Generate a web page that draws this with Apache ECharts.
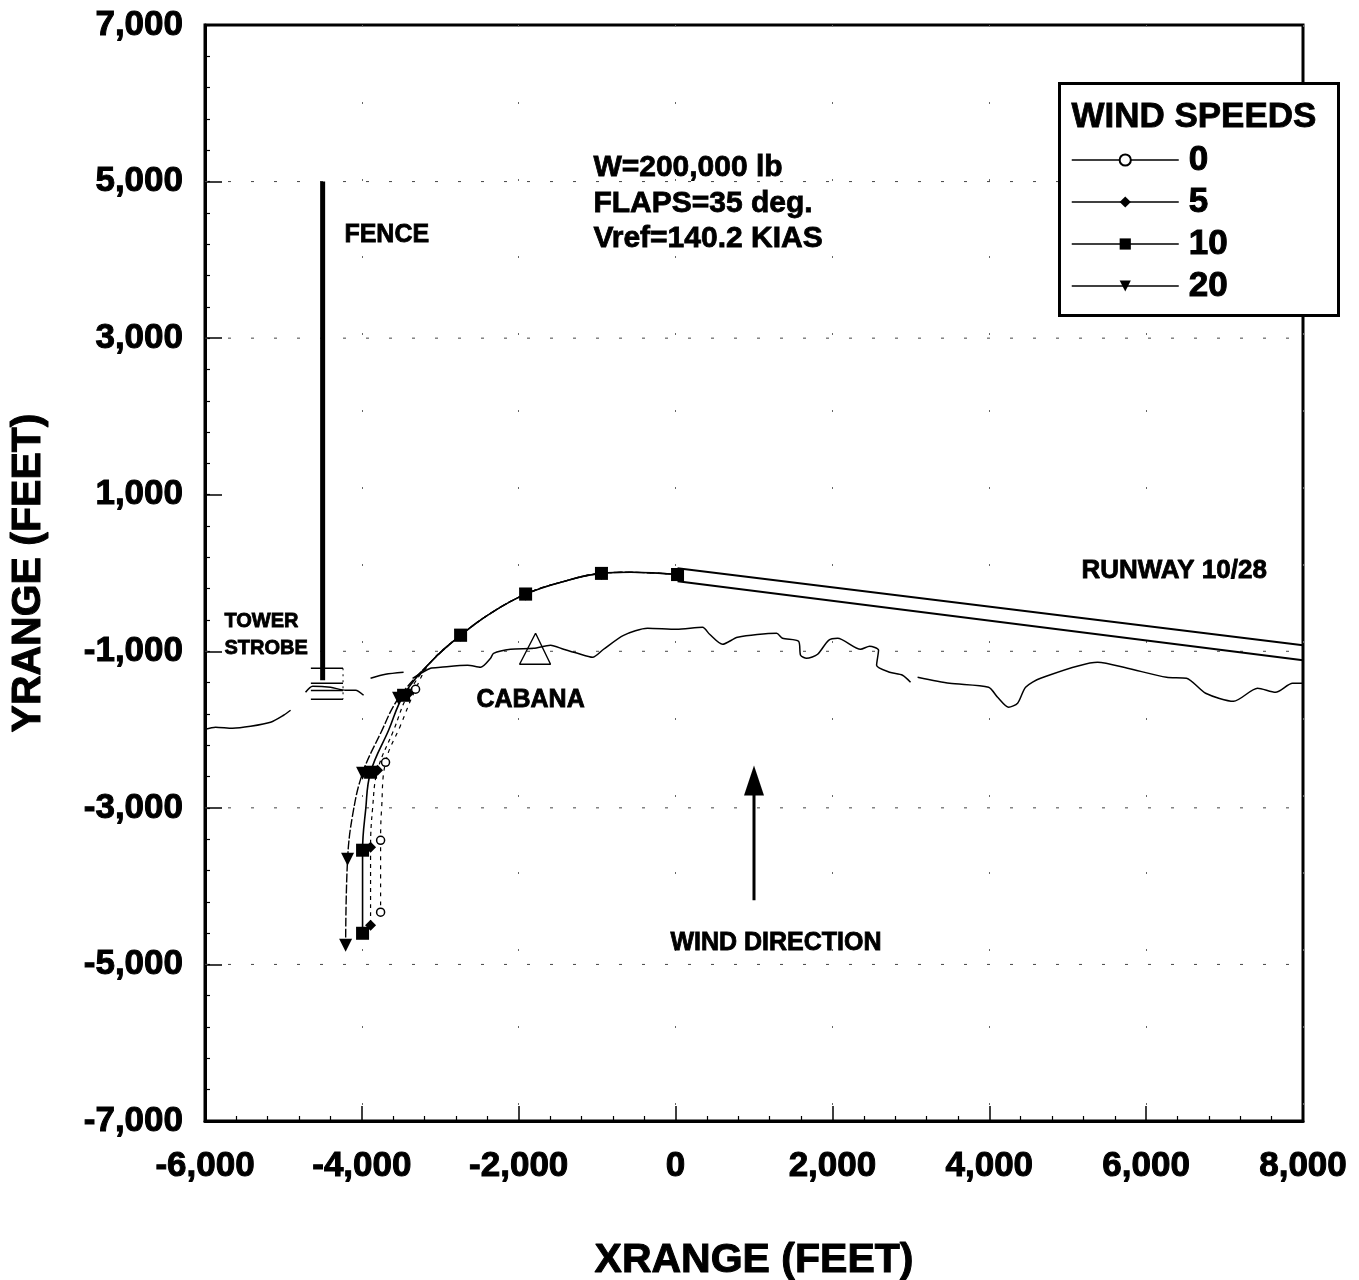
<!DOCTYPE html>
<html><head><meta charset="utf-8">
<style>html,body{margin:0;padding:0;background:#fff}#c{width:1359px;height:1280px}</style>
<script src="https://cdn.jsdelivr.net/npm/echarts@6/dist/echarts.min.js"></script>
</head><body><div id="c"></div>
<script>
const yLabelValues=[-7000,-5000,-3000,-1000,1000,3000,5000,7000];
const gridYValues=[-5000,-3000,-1000,3000,5000];
const speedNames=['0','5','10','20'];

// flight paths (feet); curve shared until the turn, then split by wind speed
const sharedX=[25,-574,-945,-1466,-1912,-2359,-2741,-3124];
const sharedY=[-20,9,-5,-119,-270,-515,-796,-1140];
const sharedMarks=[0,2,4,6];

const tailX0=[-3315,-3506,-3698,-3748,-3761,-3761];
const tailY0=[-1485,-1945,-2418,-3005,-3414,-4333];
const tailMarks0=[0,2,4,5];
const tailX5=[-3404,-3595,-3800,-3863,-3889,-3889];
const tailY5=[-1536,-2009,-2520,-3005,-3503,-4499];
const tailMarks5=[0,2,4,5];
const tailX10=[-3468,-3659,-3889,-3952,-3991,-3991];
const tailY10=[-1562,-2009,-2545,-3030,-3541,-4602];
const tailMarks10=[0,2,4,5];
const tailX20=[-3532,-3761,-3991,-4118,-4182,-4207];
const tailY20=[-1600,-2047,-2558,-3094,-3656,-4755];
const tailMarks20=[0,2,4,5];

const coastX=[-6000,-5865,-5648,-5419,-5164,-4998,-4909,null,-4718,-4628,-4399,-4208,-4080,-3978,null,-3889,-3698,-3468,null,-3353,-3124,-2996,-2652,-2486,-2359,-2321,-2104,-1810,-1594,-1428,-1250,-1058,-918,-663,-357,13,344,434,599,791,1288,1364,1568,1594,1670,1811,1951,2066,2359,2474,2588,2563,2729,2894,2996,null,3086,3494,3991,4106,4246,4361,4463,4654,5381,5763,6260,6515,6758,7115,7421,7650,7867,8000];
const coastY=[-1996,-1970,-1983,-1958,-1907,-1817,-1753,null,-1524,-1447,-1460,-1498,-1498,-1562,null,-1345,-1294,-1268,null,-1345,-1217,-1204,-1179,-1204,-1089,-1026,-974,-962,-923,-974,-1026,-1077,-974,-796,-706,-719,-694,-783,-911,-821,-770,-834,-872,-1051,-1089,-1038,-860,-834,-974,-936,-987,-1179,-1268,-1306,-1396,null,-1332,-1409,-1460,-1587,-1715,-1664,-1460,-1345,-1140,-1217,-1332,-1345,-1536,-1639,-1472,-1524,-1409,-1409];

const runwayUpperX=[25,8000], runwayUpperY=[60,-923];
const runwayLowerX=[25,8000], runwayLowerY=[-106,-1115];
const fenceX=[-4500,-4500], fenceY=[5000,-1370];
const strobeLeft=-4650, strobeRight=-4240;
const strobeYs=[-1217,-1409,-1500,-1613];
const strobeSideX=[-4240,-4240], strobeSideY=[-1217,-1613];
const cabanaX=[-1785,-1594,-1989,-1785], cabanaY=[-770,-1166,-1166,-770];
const windArrowX=[1000,1000], windArrowY=[-4180,-2700];
const windArrowHead=[1000,-2650];

const FF='"Liberation Sans",Arial,sans-serif';
const heavy={fontFamily:FF,fontWeight:'bold',color:'#000',textBorderColor:'#000',textBorderWidth:1};
const fmt=v=>Math.round(v).toLocaleString('en-US');
const zip=(xs,ys)=>xs.map((x,i)=>x===null?['-','-']:[x,ys[i]]);
const thin=(name,xs,ys,w,extra)=>Object.assign({name,type:'line',data:zip(xs,ys),symbol:'none',silent:true,
  lineStyle:{color:'#000',width:w},connectNulls:false,z:3},extra||{});

const tailStyle=[
 {symbol:'circle',size:8,type:[4,5],width:1.2},
 {symbol:'diamond',size:11,type:[4,4],width:1.2},
 {symbol:'rect',size:13,type:'solid',width:1.6},
 {symbol:'triangle',size:13,type:[9,2],width:1.4,rotate:180}
];
const tails=[[tailX0,tailY0,tailMarks0],[tailX5,tailY5,tailMarks5],[tailX10,tailY10,tailMarks10],[tailX20,tailY20,tailMarks20]];
const speedSeries=speedNames.map((name,i)=>{
  const st=tailStyle[i],[tx,ty,tm]=tails[i];
  const pts=[];
  sharedX.forEach((x,k)=>{const on=sharedMarks.includes(k);pts.push(on?{value:[x,sharedY[k]]}:{value:[x,sharedY[k]],symbol:'none'});});
  tx.forEach((x,k)=>{const on=tm.includes(k);pts.push(on?{value:[x,ty[k]]}:{value:[x,ty[k]],symbol:'none'});});
  return {name,type:'line',data:pts,smooth:0.4,showSymbol:true,showAllSymbol:true,symbol:st.symbol,symbolSize:st.size,
    symbolRotate:st.rotate||0,lineStyle:{color:'#000',width:st.width,type:st.type},
    itemStyle:{color:i===0?'#fff':'#000',borderColor:'#000',borderWidth:i===0?1.5:0,opacity:1},z:5,silent:true};
});

const gridX=[],gridY=[];
gridYValues.forEach(v=>{gridX.push(-6000,8000,null);gridY.push(v,v,null);});
const strobeX=[],strobeY=[];
strobeYs.forEach(v=>{strobeX.push(strobeLeft,strobeRight,null);strobeY.push(v,v,null);});

const minorY=[];for(let v=-7000;v<=7000;v+=400)minorY.push(v);

const txt=(left,top,text,size,extra)=>({type:'text',left,top,z:20,style:Object.assign({text,font:`bold ${size}px ${FF}`,fill:'#000',stroke:'#000',lineWidth:0.8},extra||{})});

const chart=echarts.init(document.getElementById('c'),null,{renderer:'canvas'});
chart.setOption({
  animation:false,
  backgroundColor:'#fff',
  grid:{left:205,top:25,width:1098,height:1096,outerBoundsMode:'none',show:true,borderColor:'#000',borderWidth:3,backgroundColor:'transparent'},
  legend:{data:speedNames,orient:'vertical',left:1071,top:142,padding:0,itemWidth:107,itemHeight:14,itemGap:6,
    lineStyle:{type:'solid',width:1.5,color:'#000'},
    textStyle:Object.assign({},heavy,{fontSize:35,padding:[0,0,0,5]}),selectedMode:false,z:10},
  xAxis:{type:'value',min:-6000,max:8000,interval:2000,
    axisLine:{show:true,onZero:false,lineStyle:{color:'#000',width:3}},
    axisTick:{show:true,inside:true,length:15,lineStyle:{color:'#000',width:1.5}},
    minorTick:{show:true,splitNumber:5,length:5,lineStyle:{color:'#000',width:1.2}},
    axisLabel:Object.assign({},heavy,{fontSize:35,margin:28,formatter:fmt,showMinLabel:true,showMaxLabel:true}),
    splitLine:{show:true,lineStyle:{color:'#666',width:1,type:[2,75]}},
    name:'XRANGE (FEET)',nameLocation:'middle',nameGap:119,
    nameTextStyle:Object.assign({},heavy,{fontSize:41})},
  yAxis:[{type:'value',min:-7000,max:7000,interval:200,position:'left',
    axisLine:{show:true,onZero:false,lineStyle:{color:'#000',width:3}},
    axisTick:{show:true,inside:true,length:5,customValues:minorY,lineStyle:{color:'#000',width:1.2}},
    axisLabel:Object.assign({},heavy,{fontSize:35,margin:22,customValues:yLabelValues,formatter:fmt}),
    splitLine:{show:false},
    name:'YRANGE (FEET)',nameLocation:'middle',nameGap:156,nameRotate:90,
    nameTextStyle:Object.assign({},heavy,{fontSize:41})},
   {type:'value',min:-7000,max:7000,interval:200,position:'left',
    axisLine:{show:false,onZero:false},
    axisTick:{show:true,inside:true,length:17,customValues:yLabelValues,lineStyle:{color:'#000',width:1.5}},
    axisLabel:{show:false},splitLine:{show:false}}],
  series:[
    thin('grid-y',gridX,gridY,1,{lineStyle:{color:'#444',width:1,type:[3,20]},z:1}),
    thin('coast',coastX,coastY,1.5,{smooth:0.25}),
    thin('runway-upper',runwayUpperX,runwayUpperY,2),
    thin('runway-lower',runwayLowerX,runwayLowerY,2),
    thin('fence',fenceX,fenceY,5),
    thin('strobe',strobeX,strobeY,1.5),
    thin('strobe-side',strobeSideX,strobeSideY,1,{lineStyle:{color:'#000',width:1,type:[2,4]}}),
    thin('cabana',cabanaX,cabanaY,1.4),
    thin('wind',windArrowX,windArrowY,3),
    {name:'wind-head',type:'scatter',data:[windArrowHead],symbol:'triangle',symbolSize:[20,30],itemStyle:{color:'#000',opacity:1},silent:true,z:4},
    ...speedSeries
  ],
  graphic:[
    {type:'rect',shape:{x:1059.5,y:83.5,width:279,height:232},z:8,style:{fill:'#fff',stroke:'#000',lineWidth:3}},
    txt(1071,99,'WIND SPEEDS',35),
    txt(593,152,'W=200,000 lb',30),
    txt(593,188,'FLAPS=35 deg.',30),
    txt(593,223,'Vref=140.2 KIAS',30),
    txt(344,222,'FENCE',25),
    txt(224,611,'TOWER',20),
    txt(224,638,'STROBE',20),
    txt(476,687,'CABANA',25),
    txt(1081,557,'RUNWAY 10/28',26),
    txt(670,930,'WIND DIRECTION',25)
  ]
});
</script></body></html>
